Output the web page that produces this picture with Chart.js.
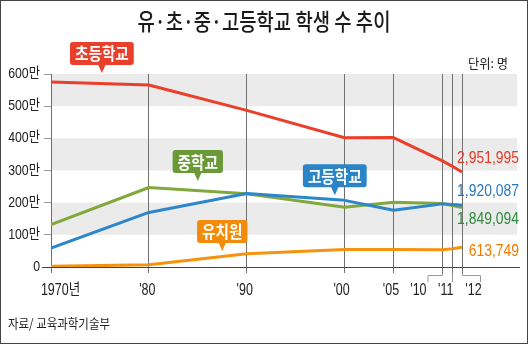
<!DOCTYPE html>
<html><head><meta charset="utf-8">
<script src="https://cdn.jsdelivr.net/npm/chart.js@4.4.1/dist/chart.umd.min.js"></script>
<style>html,body{margin:0;padding:0;background:#fff}canvas{display:block}</style>
</head><body>
<canvas id="c" width="528" height="344"></canvas>
<script>
// ---- data ----
const years = [1970, 1980, 1990, 2000, 2005, 2010, 2011, 2012];
const xTickLabels = ['1970년', "'80", "'90", "'00", "'05", "'10", "'11", "'12"];
const elementary = [5749301, 5658002, 4868520, 4019991, 4022801, 3299094, 3132477, 2951995];
const middle = [1318808, 2471997, 2275751, 1860539, 2010704, 1974798, 1910572, 1849094];
const high = [590382, 1696792, 2283806, 2071468, 1762896, 1962356, 1943798, 1920087];
const kinder = [22271, 66433, 414532, 545263, 541603, 538587, 564834, 613749];
const seriesNames = ['초등학교', '중학교', '고등학교', '유치원'];
const yTickValues = [0, 100, 200, 300, 400, 500, 600]; // 단위: 만 명
const yTickLabels = ['0', '100만', '200만', '300만', '400만', '500만', '600만'];
const titleText = '유·초·중·고등학교 학생 수 추이';
const unitText = '단위: 명';
const sourceText = '자료/ 교육과학기술부';

// ---- styles ----
const KR = "'Noto Sans CJK KR', 'Noto Sans', sans-serif";
const NUM = "'Liberation Sans', Arial, 'Noto Sans CJK KR', sans-serif";
const lineColors = ['#ea3f2a', '#80a83c', '#2b86cb', '#f5930f'];
const boxColors = ['#e8402a', '#6a9a38', '#2a84c6', '#f28b0a'];
const endColors = ['#e63a26', '#2f8a3c', '#2878c0', '#f07a00'];
const seriesValues = [elementary, middle, high, kinder];
// callout anchors (tip) in data coordinates, and end label vertical offsets
const calloutAnchors = [[1975.2, 603], [1985.0, 267], [1999.0, 223], [1987.5, 50]];
const endLabelDy = [-13, 12.5, -14, 4];
const xLabelDx = [9.5, -1.5, -2, -3, -2.5, -24, -6.5, 11.5];

function txt(ctx, s, x, y, font, color, align, sx) {
  ctx.save();
  ctx.font = font; ctx.fillStyle = color; ctx.textBaseline = 'middle'; ctx.textAlign = 'left';
  const w = ctx.measureText(s).width * sx;
  const left = align === 'center' ? x - w / 2 : align === 'right' ? x - w : x;
  ctx.translate(left, y); ctx.scale(sx, 1);
  ctx.fillText(s, 0, 0);
  ctx.restore();
}
function fitTxt(ctx, s, x, y, font, color, align, width) {
  ctx.save(); ctx.font = font;
  const sx = width / ctx.measureText(s).width;
  ctx.restore();
  txt(ctx, s, x, y, font, color, align, sx);
}

const deco = {
  id: 'deco',
  beforeDraw(chart) {
    const {ctx, chartArea: a, scales: {y}} = chart;
    ctx.save();
    ctx.fillStyle = '#ebebeb';
    for (let v = 100; v < 600; v += 200) {
      const t = y.getPixelForValue(v + 100), b = y.getPixelForValue(v);
      ctx.fillRect(a.left, t, a.right - a.left, b - t);
    }
    ctx.restore();
  },
  beforeDatasetsDraw(chart) {
    const {ctx, chartArea: a, scales: {x, y}} = chart;
    ctx.save();
    ctx.strokeStyle = '#444'; ctx.lineWidth = 1;
    const by = Math.round(y.getPixelForValue(0)) + 0.5;
    ctx.beginPath(); ctx.moveTo(a.left - 9, by); ctx.lineTo(a.right + 3, by); ctx.stroke();
    ctx.strokeStyle = '#999';
    const base = a.bottom + 6;
    const xs = [5, 6, 7].map(i => Math.round(x.getPixelForValue(years[i])) + 0.5);
    ctx.beginPath();
    ctx.moveTo(xs[0], base); ctx.lineTo(xs[0], base + 2.5); ctx.lineTo(xs[0] - 14.5, base + 2.5); ctx.lineTo(xs[0] - 14.5, base + 9);
    ctx.moveTo(xs[1], base); ctx.lineTo(xs[1], base + 9);
    ctx.moveTo(xs[2], base); ctx.lineTo(xs[2], base + 2.5); ctx.lineTo(xs[2] + 18, base + 2.5); ctx.lineTo(xs[2] + 18, base + 9);
    ctx.stroke();
    ctx.restore();
  },
  afterDatasetsDraw(chart) {
    const {ctx, chartArea: a, scales: {x, y}} = chart;
    seriesNames.forEach((name, i) => {
      const tx = x.getPixelForValue(calloutAnchors[i][0]);
      const ty = y.getPixelForValue(calloutAnchors[i][1]);
      ctx.save();
      const f = 'bold 17px ' + KR;
      ctx.font = f;
      const sx = 0.86;
      const tw = ctx.measureText(name).width * sx;
      const w = tw + 10, h = 23;
      const bx = tx - w / 2, bb = ty - 8, bt = bb - h;
      ctx.fillStyle = boxColors[i];
      ctx.beginPath();
      ctx.roundRect(bx, bt, w, h, 3);
      ctx.fill();
      ctx.beginPath();
      ctx.moveTo(tx - 4, bb - 1); ctx.lineTo(tx + 4, bb - 1); ctx.lineTo(tx, ty); ctx.closePath();
      ctx.fill();
      ctx.restore();
      txt(ctx, name, tx, bt + h / 2 + 0.5, f, '#fff', 'center', sx);
    });
    seriesValues.forEach((vals, i) => {
      const last = vals[vals.length - 1];
      const py = y.getPixelForValue(last / 10000) + endLabelDy[i];
      txt(ctx, last.toLocaleString('en-US'), a.right + 2, py, '16px ' + NUM, endColors[i], 'right', 0.87);
    });
  },
  afterDraw(chart) {
    const {ctx, chartArea: a, scales: {x, y}} = chart;
    yTickValues.forEach((v, i) => {
      txt(ctx, yTickLabels[i], a.left - 11, y.getPixelForValue(v), '15px ' + NUM, '#222', 'right', 0.82);
    });
    years.forEach((v, i) => {
      txt(ctx, xTickLabels[i], x.getPixelForValue(v) + xLabelDx[i], a.bottom + 24, '16px ' + NUM, '#222', 'center', 0.78);
    });
    fitTxt(ctx, titleText, 264, 21, '500 23px ' + KR, '#1a1a1a', 'center', 253);
    fitTxt(ctx, unitText, 508, 63, '13px ' + KR, '#222', 'right', 40);
    fitTxt(ctx, sourceText, 8, 323, '13px ' + KR, '#222', 'left', 102);
    ctx.save(); ctx.strokeStyle = '#444'; ctx.lineWidth = 1;
    ctx.strokeRect(0.5, 0.5, chart.width - 1, chart.height - 1);
    ctx.restore();
  }
};

const order = [2, 1, 3, 0];
const datasets = order.map(i => ({
  label: seriesNames[i],
  data: years.map((yr, k) => ({x: yr, y: seriesValues[i][k] / 10000})),
  borderColor: lineColors[i],
  borderWidth: 3,
  pointRadius: 0,
  tension: 0,
  fill: false,
  borderJoinStyle: 'round'
}));

new Chart(document.getElementById('c'), {
  type: 'line',
  data: {datasets},
  options: {
    responsive: false,
    animation: false,
    devicePixelRatio: 1,
    layout: {padding: {top: 74, right: 11, left: 0, bottom: 0}},
    plugins: {legend: {display: false}, title: {display: false}, tooltip: {enabled: false}},
    scales: {
      x: {
        type: 'linear', min: 1970, max: 2017.62,
        afterBuildTicks: s => { s.ticks = years.map(v => ({value: v})); },
        afterFit: s => { s.height = 77; },
        ticks: {display: false},
        grid: {color: '#707070', lineWidth: 1, drawTicks: true, tickLength: 6},
        border: {display: false}
      },
      y: {
        min: 0, max: 600,
        afterBuildTicks: s => { s.ticks = yTickValues.map(v => ({value: v})); },
        afterFit: s => { s.width = 51; },
        ticks: {display: false},
        grid: {drawOnChartArea: false, drawTicks: true, tickLength: 7, color: '#999'},
        border: {display: false}
      }
    }
  },
  plugins: [deco]
});
</script>
</body></html>
